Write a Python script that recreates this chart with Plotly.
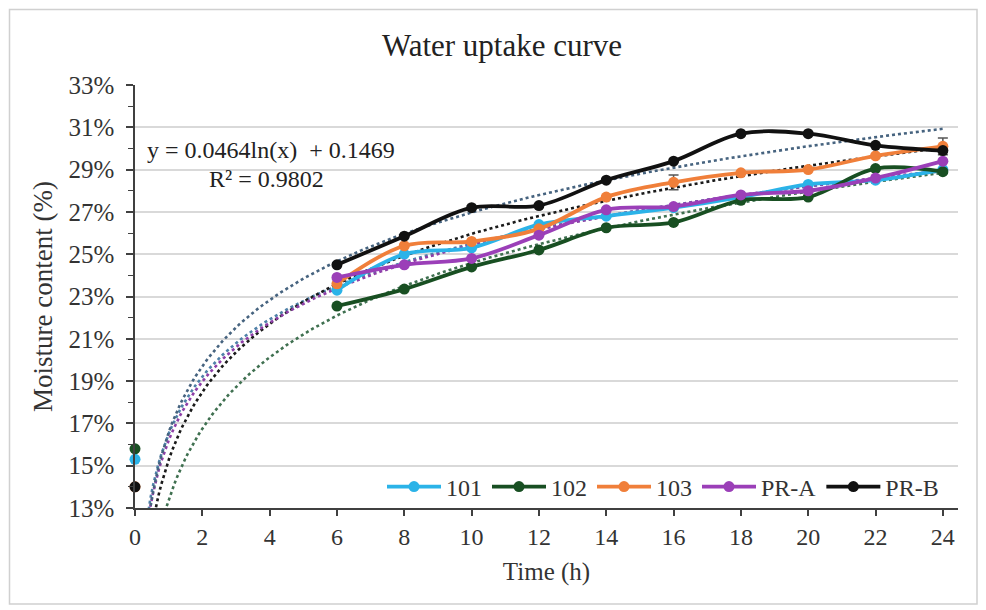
import numpy as np
import plotly.graph_objects as go

# ---- data (moisture content, %) ----
time_h = [0, 2, 4, 6, 8, 10, 12, 14, 16, 18, 20, 22, 24]
s101 = [15.3, None, None, 23.3, 25.0, 25.3, 26.4, 26.8, 27.2, 27.7, 28.3, 28.5, 29.0]
s102 = [15.8, None, None, 22.55, 23.35, 24.4, 25.2, 26.25, 26.5, 27.55, 27.7, 29.05, 28.9]
s103 = [14.0, None, None, 23.6, 25.4, 25.6, 26.2, 27.7, 28.4, 28.85, 29.0, 29.65, 30.1]
s_pra = [None, None, None, 23.9, 24.5, 24.8, 25.9, 27.1, 27.25, 27.8, 28.0, 28.6, 29.4]
s_prb = [14.0, None, None, 24.5, 25.85, 27.2, 27.3, 28.5, 29.4, 30.7, 30.7, 30.15, 29.9]
err103 = [None, None, None, None, None, None, None, None, 0.35, None, None, None, 0.4]

names = ["101", "102", "103", "PR-A", "PR-B"]
series = [s101, s102, s103, s_pra, s_prb]
colors = ["#2bb3e8", "#184f22", "#f07f3a", "#9b3fb8", "#111111"]
trend_colors = ["#4f81a8", "#3f7050", "#1a1a1a", "#8e3fa8", "#46637f"]

eq_text = "y = 0.0464ln(x)  + 0.1469"
r2_text = "R² = 0.9802"

FONT = "Liberation Serif, Times New Roman, serif"

fig = go.Figure()

# logarithmic trendlines fitted from each series (x > 0)
xt = np.linspace(0.3, 24, 300)
for vals, tc in zip(series, trend_colors):
    xs = np.array([t for t, v in zip(time_h, vals) if v is not None and t > 0], float)
    ys = np.array([v for t, v in zip(time_h, vals) if v is not None and t > 0], float)
    a, b = np.polyfit(np.log(xs), ys, 1)
    fig.add_trace(go.Scatter(x=xt, y=a * np.log(xt) + b, mode="lines",
                             line=dict(color=tc, width=2.6, dash="dot"),
                             showlegend=False, hoverinfo="skip"))

for nm, vals, c in zip(names, series, colors):
    kw = {}
    if nm == "103":
        kw["error_y"] = dict(type="data", array=err103, visible=True,
                             color="#555555", thickness=1.5, width=5)
    fig.add_trace(go.Scatter(x=time_h, y=vals, name=nm, mode="lines+markers",
                             line=dict(color=c, width=3.8, shape="spline", smoothing=1),
                             marker=dict(color=c, size=11, symbol="circle"),
                             connectgaps=False, cliponaxis=False, **kw))

# page has an 8px body margin: work in page pixels, convert to figure pixels
OFF = 8
W, H = 986 - OFF, 610 - OFF
L, R, T, B = 135 - OFF, 958 - OFF, 85 - OFF, 508 - OFF
pw, ph = R - L, B - T

def px(page_x):
    return (page_x - OFF - L) / pw

def py(page_y):
    return (B - (page_y - OFF)) / ph

fig.add_annotation(x=4.05, y=29.93, xref="x", yref="y", text=eq_text, showarrow=False,
                   font=dict(family=FONT, size=24, color="#222222"))
fig.add_annotation(x=3.9, y=28.55, xref="x", yref="y", text=r2_text, showarrow=False,
                   font=dict(family=FONT, size=24, color="#222222"))

# outer chart border
fig.add_shape(type="rect", xref="paper", yref="paper",
              x0=px(9.5), x1=px(977), y0=py(604), y1=py(9.5),
              line=dict(color="#d0d0d0", width=1.5), layer="below")

fig.update_layout(
    width=W, height=H,
    margin=dict(l=L, r=W - R, t=T, b=H - B),
    paper_bgcolor="white", plot_bgcolor="white",
    font=dict(family=FONT, size=24, color="#333333"),
    title=dict(text="Water uptake curve", x=(502 - OFF) / W, xanchor="center",
               y=1 - (45 - OFF) / H, yanchor="middle",
               font=dict(family=FONT, size=31, color="#222222")),
    showlegend=True,
    legend=dict(orientation="h", x=px(382), y=py(487), xanchor="left", yanchor="middle",
                itemwidth=54,
                bgcolor="rgba(0,0,0,0)", font=dict(family=FONT, size=24, color="#333333"),
                traceorder="normal"),
)

fig.update_xaxes(range=[0, 24.45], tick0=0, dtick=2, showgrid=False, zeroline=False,
                 showline=True, linecolor="#404040", linewidth=1.5,
                 ticks="outside", ticklen=6, tickwidth=1.5, tickcolor="#404040",
                 tickfont=dict(family=FONT, size=24, color="#333333"),
                 title=dict(text="Time (h)", standoff=14,
                            font=dict(family=FONT, size=25, color="#333333")))
fig.update_yaxes(range=[13, 33], tick0=13, dtick=2, ticksuffix="%",
                 showgrid=True, gridcolor="#d9d9d9", gridwidth=1.5, zeroline=False,
                 showline=True, linecolor="#404040", linewidth=1.5,
                 ticks="outside", ticklen=7, tickwidth=1.5, tickcolor="#404040",
                 ticklabelstandoff=7,
                 minor=dict(dtick=1, tick0=13, ticks="outside", ticklen=5,
                            tickcolor="#404040", tickwidth=1.2, showgrid=False),
                 tickfont=dict(family=FONT, size=25, color="#333333"),
                 title=dict(text="Moisture content (%)", standoff=8,
                            font=dict(family=FONT, size=27, color="#333333")))

fig.write_html("out.html")
